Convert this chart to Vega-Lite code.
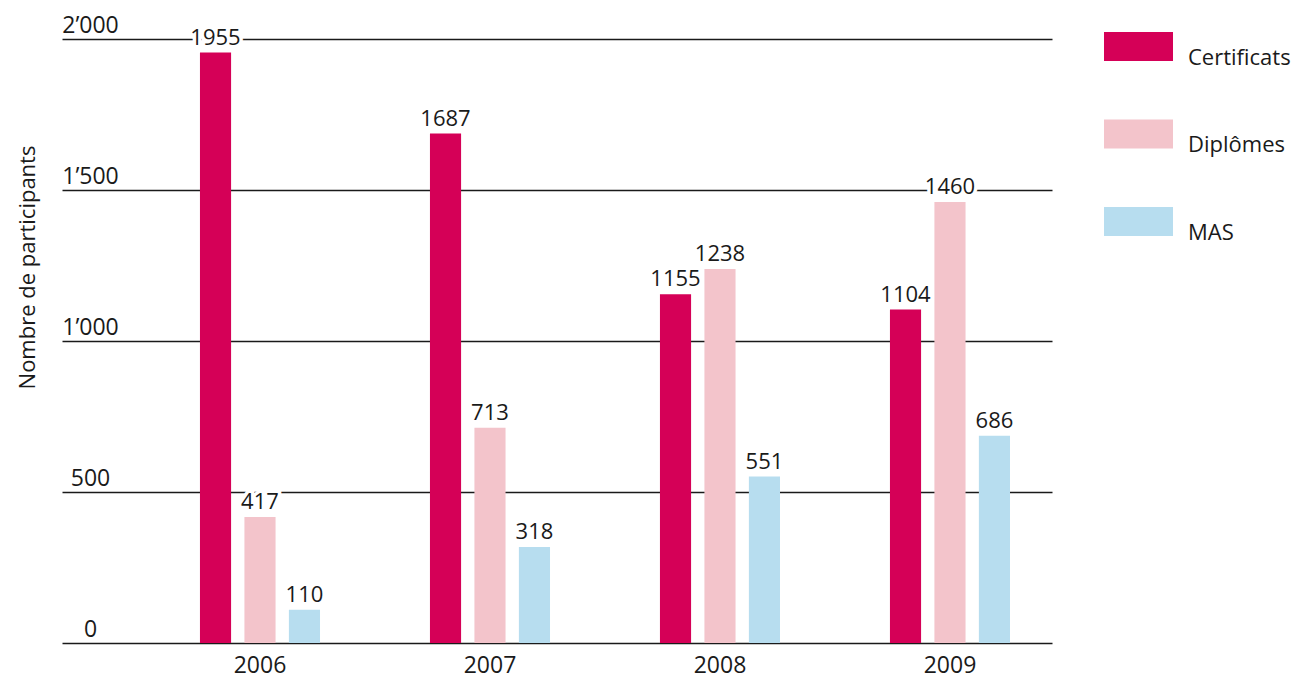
{
  "$schema": "https://vega.github.io/schema/vega-lite/v6.json",
  "width": 990,
  "height": 604,
  "autosize": {"type": "none"},
  "padding": {"left": 62, "top": 39, "right": 247, "bottom": 36},
  "background": "white",
  "data": {
    "values": [
      {"year": "2006", "type": "Certificats", "value": 1955},
      {"year": "2006", "type": "Diplômes", "value": 417},
      {"year": "2006", "type": "MAS", "value": 110},
      {"year": "2007", "type": "Certificats", "value": 1687},
      {"year": "2007", "type": "Diplômes", "value": 713},
      {"year": "2007", "type": "MAS", "value": 318},
      {"year": "2008", "type": "Certificats", "value": 1155},
      {"year": "2008", "type": "Diplômes", "value": 1238},
      {"year": "2008", "type": "MAS", "value": 551},
      {"year": "2009", "type": "Certificats", "value": 1104},
      {"year": "2009", "type": "Diplômes", "value": 1460},
      {"year": "2009", "type": "MAS", "value": 686}
    ]
  },
  "encoding": {
    "x": {
      "field": "year",
      "type": "nominal",
      "scale": {"paddingInner": 0.42, "paddingOuter": 0.3622, "align": 0.788},
      "axis": {
        "title": null,
        "domain": false,
        "ticks": false,
        "tickSize": 0,
        "labelAngle": 0,
        "labelFont": "Open Sans",
        "labelFontSize": 23,
        "labelColor": "#1a1a1a",
        "labelBaseline": "alphabetic",
        "labelPadding": 29
      }
    },
    "xOffset": {
      "field": "type",
      "type": "nominal",
      "sort": ["Certificats", "Diplômes", "MAS"],
      "scale": {"paddingInner": 0.3, "paddingOuter": 0.15}
    },
    "y": {
      "field": "value",
      "type": "quantitative",
      "scale": {"domain": [0, 2000], "nice": false},
      "axis": {
        "title": "Nombre de participants",
        "titleFont": "Open Sans",
        "titleFontSize": 22,
        "titleFontWeight": "normal",
        "titleColor": "#1a1a1a",
        "titleX": -35,
        "titleY": 228,
        "titleAngle": -90,
        "titleAlign": "center",
        "titleBaseline": "middle",
        "values": [0, 500, 1000, 1500, 2000],
        "labelExpr": "replace(format(datum.value, ','), ',', '’')",
        "domain": false,
        "ticks": false,
        "tickSize": 0,
        "labelPadding": -28,
        "labelAlign": "center",
        "labelBaseline": "alphabetic",
        "labelOffset": -7,
        "labelFont": "Open Sans",
        "labelFontSize": 23,
        "labelColor": "#1a1a1a",
        "grid": true,
        "gridColor": "#1a1a1a",
        "gridWidth": 1.4
      }
    }
  },
  "layer": [
    {
      "mark": {"type": "bar"},
      "encoding": {
        "color": {
          "field": "type",
          "type": "nominal",
          "sort": ["Certificats", "Diplômes", "MAS"],
          "scale": {
            "domain": ["Certificats", "Diplômes", "MAS"],
            "range": ["#d50057", "#f3c4cb", "#b7ddef"]
          },
          "legend": {
            "title": null,
            "orient": "none",
            "legendX": 1042,
            "legendY": -27,
            "padding": 0,
            "symbolType": "M-1,-0.42H1V0.42H-1Z",
            "symbolSize": 4761,
            "symbolStrokeWidth": 0,
            "labelFont": "Open Sans",
            "labelFontSize": 22,
            "labelColor": "#1a1a1a",
            "labelOffset": 15,
            "labelBaseline": "alphabetic",
            "labelLimit": 300,
            "rowPadding": 30.5,
            "encode": {"labels": {"update": {"dy": {"value": 18}}}}
          }
        }
      }
    },
    {
      "mark": {
        "type": "text",
        "baseline": "alphabetic",
        "dy": -8,
        "font": "Open Sans",
        "fontSize": 22,
        "stroke": "white",
        "strokeWidth": 7,
        "fill": "white"
      },
      "encoding": {"text": {"field": "value", "type": "quantitative", "format": "d"}}
    },
    {
      "mark": {
        "type": "text",
        "baseline": "alphabetic",
        "dy": -8,
        "font": "Open Sans",
        "fontSize": 22,
        "fill": "#1a1a1a"
      },
      "encoding": {"text": {"field": "value", "type": "quantitative", "format": "d"}}
    }
  ],
  "config": {"view": {"stroke": null}}
}
